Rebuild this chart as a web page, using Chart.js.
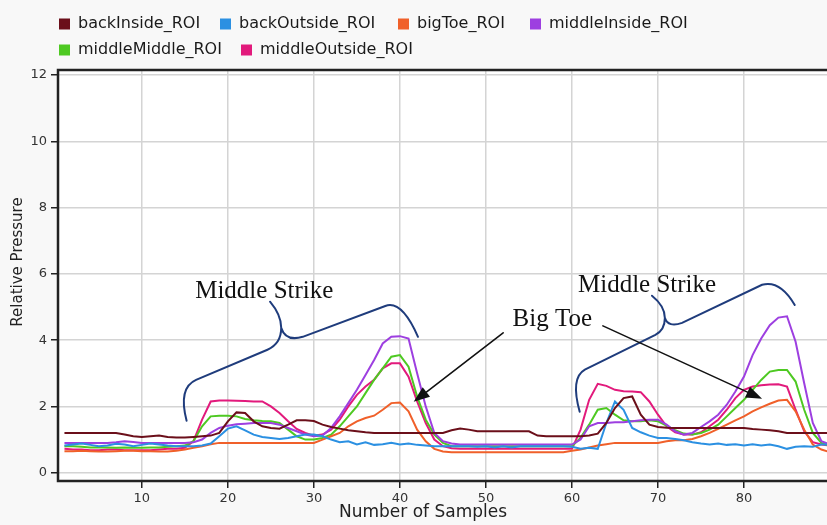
<!DOCTYPE html>
<html>
<head>
<meta charset="utf-8">
<script src="https://cdn.jsdelivr.net/npm/chart.js@4.4.0/dist/chart.umd.min.js"></script>
<style>
    html, body { margin: 0; padding: 0; background: #f8f8f8; }
    #wrap { width: 827px; height: 525px; }
</style>
</head>
<body>
<div id="wrap"><canvas id="pressureChart" width="827" height="525"></canvas></div>
<script>
// sample numbers on the x axis
const samples = [
    1, 2, 3, 4, 5, 6, 7, 8, 9, 10,
    11, 12, 13, 14, 15, 16, 17, 18, 19, 20,
    21, 22, 23, 24, 25, 26, 27, 28, 29, 30,
    31, 32, 33, 34, 35, 36, 37, 38, 39, 40,
    41, 42, 43, 44, 45, 46, 47, 48, 49, 50,
    51, 52, 53, 54, 55, 56, 57, 58, 59, 60,
    61, 62, 63, 64, 65, 66, 67, 68, 69, 70,
    71, 72, 73, 74, 75, 76, 77, 78, 79, 80,
    81, 82, 83, 84, 85, 86, 87, 88, 89, 90
];

const backInside = [
    1.2, 1.2, 1.2, 1.2, 1.2, 1.2, 1.2, 1.15, 1.1, 1.08,
    1.1, 1.12, 1.08, 1.06, 1.06, 1.08, 1.1, 1.12, 1.2, 1.55,
    1.82, 1.8, 1.55, 1.4, 1.35, 1.33, 1.45, 1.58, 1.58, 1.56,
    1.45, 1.38, 1.33, 1.28, 1.25, 1.22, 1.2, 1.2, 1.2, 1.2,
    1.2, 1.2, 1.2, 1.2, 1.2, 1.28, 1.33, 1.3, 1.25, 1.25,
    1.25, 1.25, 1.25, 1.25, 1.25, 1.12, 1.1, 1.1, 1.1, 1.1,
    1.1, 1.12, 1.18, 1.5, 1.95, 2.25, 2.3, 1.75, 1.45, 1.38,
    1.36, 1.35, 1.35, 1.35, 1.35, 1.35, 1.35, 1.35, 1.35, 1.35,
    1.32, 1.3, 1.28, 1.25, 1.2, 1.2, 1.2, 1.2, 1.2, 1.2
];
const backOutside = [
    0.82, 0.85, 0.88, 0.84, 0.8, 0.82, 0.87, 0.85, 0.8, 0.84,
    0.88, 0.85, 0.82, 0.8, 0.8, 0.8, 0.82, 0.88, 1.1, 1.33,
    1.4, 1.28, 1.15, 1.08, 1.05, 1.02, 1.05, 1.1, 1.15, 1.15,
    1.1, 1.0, 0.92, 0.95, 0.85, 0.92, 0.84, 0.86, 0.9, 0.85,
    0.88, 0.84, 0.82, 0.8, 0.8, 0.8, 0.8, 0.8, 0.78, 0.8,
    0.76, 0.8, 0.76, 0.8, 0.8, 0.8, 0.8, 0.8, 0.8, 0.78,
    0.72, 0.75, 0.72, 1.5, 2.15, 1.9, 1.35, 1.22, 1.12, 1.05,
    1.05, 1.02, 0.98, 0.92, 0.88, 0.85, 0.88, 0.84, 0.86, 0.82,
    0.86, 0.82, 0.85, 0.8, 0.72, 0.78, 0.8, 0.78, 0.85, 0.85
];
const bigToe = [
    0.65, 0.65, 0.66, 0.65, 0.64, 0.64, 0.65, 0.66, 0.66, 0.65,
    0.65, 0.64, 0.64, 0.66, 0.7, 0.75, 0.8, 0.86, 0.9, 0.9,
    0.9, 0.9, 0.9, 0.9, 0.9, 0.9, 0.9, 0.9, 0.9, 0.9,
    1.0, 1.1, 1.2, 1.4, 1.55, 1.65, 1.72, 1.9, 2.1, 2.12,
    1.85, 1.3, 0.95, 0.72, 0.64, 0.62, 0.62, 0.62, 0.62, 0.62,
    0.62, 0.62, 0.62, 0.62, 0.62, 0.62, 0.62, 0.62, 0.62, 0.66,
    0.7, 0.76, 0.82, 0.86, 0.9, 0.9, 0.9, 0.9, 0.9, 0.9,
    0.95, 0.98, 0.98, 1.02, 1.1, 1.2, 1.32, 1.45, 1.58, 1.7,
    1.85, 1.97, 2.08, 2.18, 2.2, 1.85, 1.3, 0.85, 0.7, 0.62
];
const middleInside = [
    0.9, 0.9, 0.9, 0.9, 0.9, 0.9, 0.92, 0.95, 0.93, 0.9,
    0.9, 0.9, 0.9, 0.9, 0.9, 0.92, 1.0, 1.2, 1.35, 1.42,
    1.46, 1.48, 1.5, 1.5, 1.5, 1.45, 1.35, 1.25, 1.15, 1.1,
    1.12, 1.35, 1.7, 2.1, 2.5, 2.95, 3.4, 3.9, 4.1, 4.12,
    4.05, 3.0, 2.0, 1.2, 0.95, 0.88, 0.85, 0.85, 0.85, 0.85,
    0.85, 0.85, 0.85, 0.85, 0.85, 0.85, 0.85, 0.85, 0.85, 0.85,
    1.0, 1.4, 1.5, 1.5, 1.52, 1.52, 1.55, 1.58, 1.6, 1.6,
    1.45, 1.25, 1.15, 1.2, 1.38, 1.55, 1.75, 2.05, 2.45, 2.9,
    3.55, 4.05, 4.45, 4.68, 4.72, 3.95, 2.7, 1.5, 0.95, 0.85
];
const middleMiddle = [
    0.8, 0.8, 0.78, 0.76, 0.76, 0.76, 0.75, 0.76, 0.75, 0.75,
    0.76, 0.76, 0.78, 0.8, 0.82, 0.95, 1.4, 1.7, 1.72, 1.72,
    1.7, 1.62, 1.58, 1.56, 1.55, 1.5, 1.3, 1.1, 1.0, 1.0,
    1.05, 1.15, 1.4, 1.7, 2.0, 2.4, 2.8, 3.15, 3.5, 3.55,
    3.2, 2.3, 1.6, 1.15, 0.9, 0.8, 0.8, 0.8, 0.8, 0.8,
    0.8, 0.8, 0.8, 0.8, 0.8, 0.8, 0.8, 0.8, 0.8, 0.8,
    1.05, 1.45, 1.9, 1.95, 1.75, 1.58, 1.55, 1.55, 1.58, 1.55,
    1.42, 1.28, 1.18, 1.15, 1.2, 1.3, 1.45, 1.7, 1.95, 2.2,
    2.5, 2.8, 3.05, 3.1, 3.1, 2.75, 1.9, 1.2, 0.9, 0.8
];
const middleOutside = [
    0.72, 0.7, 0.7, 0.68, 0.68, 0.7, 0.7, 0.68, 0.68, 0.68,
    0.68, 0.7, 0.72, 0.72, 0.75, 0.95, 1.6, 2.15, 2.18, 2.18,
    2.17, 2.16, 2.15, 2.15, 2.0, 1.8, 1.55, 1.32, 1.2, 1.12,
    1.15, 1.3, 1.6, 2.0, 2.35, 2.6, 2.8, 3.15, 3.3, 3.3,
    2.9, 2.15, 1.5, 1.0, 0.8, 0.74, 0.72, 0.72, 0.72, 0.72,
    0.72, 0.72, 0.72, 0.72, 0.72, 0.72, 0.72, 0.72, 0.72, 0.72,
    1.3, 2.2, 2.68, 2.62, 2.5, 2.46, 2.45, 2.43, 2.15, 1.75,
    1.4, 1.22, 1.15, 1.15, 1.22, 1.4, 1.6, 1.9, 2.25, 2.5,
    2.6, 2.64, 2.66, 2.67, 2.6, 1.9, 1.25, 0.92, 0.85, 0.82
];

const seriesNames = ['backInside_ROI', 'backOutside_ROI', 'bigToe_ROI', 'middleInside_ROI', 'middleMiddle_ROI', 'middleOutside_ROI'];
const seriesColors = ['#6b0f1a', '#2b90e2', '#f0602a', '#9d3fe0', '#4ec922', '#e21a7c'];
const xTickValues = [10, 20, 30, 40, 50, 60, 70, 80];
const yTickValues = [0, 2, 4, 6, 8, 10, 12];

// hand drawn notes, in data units (sample, pressure)
const braces = [
    [['M', 15.2, 1.57], ['Q', 14.2, 2.56, 16.3, 2.80], ['L', 24.6, 3.71], ['Q', 26.2, 3.89, 26.2, 4.37],
     ['Q', 26.2, 4.76, 24.9, 5.16], ['M', 26.2, 4.37], ['Q', 26.7, 3.95, 28.7, 4.10], ['L', 38.3, 5.03],
     ['Q', 40.2, 5.22, 42.1, 4.10]],
    [['M', 60.9, 1.84], ['Q', 59.8, 2.86, 61.5, 3.11], ['L', 69.7, 4.16], ['Q', 70.8, 4.31, 70.8, 4.67],
     ['Q', 70.8, 5.03, 69.3, 5.34], ['M', 70.8, 4.67], ['Q', 71.2, 4.37, 72.8, 4.52], ['L', 82.1, 5.67],
     ['Q', 84.2, 5.82, 85.9, 5.06]]
];
const notes = [
    { text: 'Middle Strike', x: 16.2, y: 5.28 },
    { text: 'Middle Strike', x: 60.7, y: 5.46 },
    { text: 'Big Toe', x: 53.1, y: 4.43 }
];
const arrows = [
    { from: [52.0, 4.22], to: [41.6, 2.14] },
    { from: [63.6, 4.43], to: [82.1, 2.23] }
];

const seriesData = [backInside, backOutside, bigToe, middleInside, middleMiddle, middleOutside];

const decorPlugin = {
    id: 'decor',
    beforeDraw(chart) {
        const { ctx, chartArea: a } = chart;
        ctx.save();
        ctx.fillStyle = '#f8f8f8';
        ctx.fillRect(0, 0, chart.width, chart.height);
        ctx.fillStyle = '#ffffff';
        ctx.fillRect(a.left, a.top, a.right - a.left, a.bottom - a.top);
        ctx.restore();
    },
    afterDatasetsDraw(chart) {
        const { ctx, scales: { x, y } } = chart;
        const px = v => x.getPixelForValue(v);
        const py = v => y.getPixelForValue(v);
        ctx.save();
        // braces
        ctx.strokeStyle = '#1f3c7c';
        ctx.lineWidth = 2;
        ctx.lineCap = 'round';
        braces.forEach(cmds => {
            ctx.beginPath();
            cmds.forEach(c => {
                if (c[0] === 'M') ctx.moveTo(px(c[1]), py(c[2]));
                else if (c[0] === 'L') ctx.lineTo(px(c[1]), py(c[2]));
                else ctx.quadraticCurveTo(px(c[1]), py(c[2]), px(c[3]), py(c[4]));
            });
            ctx.stroke();
        });
        // arrows
        ctx.strokeStyle = '#111';
        ctx.fillStyle = '#111';
        ctx.lineWidth = 1.6;
        arrows.forEach(ar => {
            const x0 = px(ar.from[0]), y0 = py(ar.from[1]);
            const x1 = px(ar.to[0]), y1 = py(ar.to[1]);
            const ang = Math.atan2(y1 - y0, x1 - x0);
            const len = 16, half = 6;
            const bx = x1 - len * Math.cos(ang), by = y1 - len * Math.sin(ang);
            ctx.beginPath();
            ctx.moveTo(x0, y0);
            ctx.lineTo(bx, by);
            ctx.stroke();
            ctx.beginPath();
            ctx.moveTo(x1, y1);
            ctx.lineTo(bx + half * Math.sin(ang), by - half * Math.cos(ang));
            ctx.lineTo(bx - half * Math.sin(ang), by + half * Math.cos(ang));
            ctx.closePath();
            ctx.fill();
        });
        // notes
        ctx.font = '25px "Liberation Serif", "Times New Roman", serif';
        ctx.textAlign = 'left';
        ctx.textBaseline = 'alphabetic';
        ctx.fillStyle = '#111';
        notes.forEach(n => ctx.fillText(n.text, px(n.x), py(n.y)));
        ctx.restore();
    },
    afterDraw(chart) {
        const { ctx, chartArea: a } = chart;
        ctx.save();
        // frame
        ctx.strokeStyle = '#222';
        ctx.lineWidth = 2.5;
        ctx.beginPath();
        ctx.moveTo(a.right + 2, a.top);
        ctx.lineTo(a.left, a.top);
        ctx.lineTo(a.left, a.bottom);
        ctx.lineTo(a.right + 2, a.bottom);
        ctx.stroke();

        // legend
        const slots = [[59, 24], [220, 24], [398, 24], [530, 24], [59, 50], [241, 50]];
        ctx.font = '16px "DejaVu Sans", Verdana, sans-serif';
        ctx.textBaseline = 'middle';
        ctx.textAlign = 'left';
        chart.data.datasets.forEach((ds, i) => {
            const [lx, ly] = slots[i];
            ctx.fillStyle = ds.borderColor;
            ctx.fillRect(lx, ly - 5.5, 11, 11);
            ctx.fillStyle = '#1a1a1a';
            ctx.fillText(ds.label, lx + 19, ly);
        });

        // axis titles
        ctx.fillStyle = '#222';
        ctx.font = '17px "DejaVu Sans", Verdana, sans-serif';
        ctx.textAlign = 'center';
        ctx.fillText('Number of Samples', 423, 513);
        ctx.font = '15px "DejaVu Sans", Verdana, sans-serif';
        ctx.translate(18, 262);
        ctx.rotate(-Math.PI / 2);
        ctx.fillText('Relative Pressure', 0, 0);
        ctx.restore();
    }
};

document.addEventListener('DOMContentLoaded', function() {
    const ctx = document.getElementById('pressureChart').getContext('2d');
    const pressureChart = new Chart(ctx, {
        type: 'line',
        data: {
            datasets: seriesNames.map((name, i) => ({
                label: name,
                data: samples.map((s, j) => ({ x: s, y: seriesData[i][j] })),
                borderColor: seriesColors[i],
                backgroundColor: seriesColors[i],
                borderWidth: 2,
                pointRadius: 0,
                tension: 0,
                fill: false
            }))
        },
        options: {
            responsive: false,
            animation: false,
            layout: { padding: { top: 70, left: 0, right: 0, bottom: 0 } },
            plugins: {
                legend: { display: false },
                tooltip: { enabled: false }
            },
            scales: {
                x: {
                    type: 'linear',
                    min: 0.25,
                    max: 89.65,
                    afterFit: scale => { scale.height = 44; },
                    afterBuildTicks: scale => { scale.ticks = xTickValues.map(v => ({ value: v })); },
                    grid: { color: '#d4d4d4', lineWidth: 1.5, tickColor: '#222', tickLength: 7 },
                    border: { display: false },
                    ticks: {
                        color: '#333',
                        font: { family: '"DejaVu Sans", Verdana, sans-serif', size: 13 },
                        padding: 3,
                        maxRotation: 0
                    }
                },
                y: {
                    min: -0.25,
                    max: 12.15,
                    afterFit: scale => { scale.width = 58; },
                    afterBuildTicks: scale => { scale.ticks = yTickValues.map(v => ({ value: v })); },
                    grid: { color: '#d4d4d4', lineWidth: 1.5, tickColor: '#222', tickLength: 7 },
                    border: { display: false },
                    ticks: {
                        color: '#333',
                        font: { family: '"DejaVu Sans", Verdana, sans-serif', size: 13 },
                        padding: 4
                    }
                }
            }
        },
        plugins: [decorPlugin]
    });
});
</script>
</body>
</html>
